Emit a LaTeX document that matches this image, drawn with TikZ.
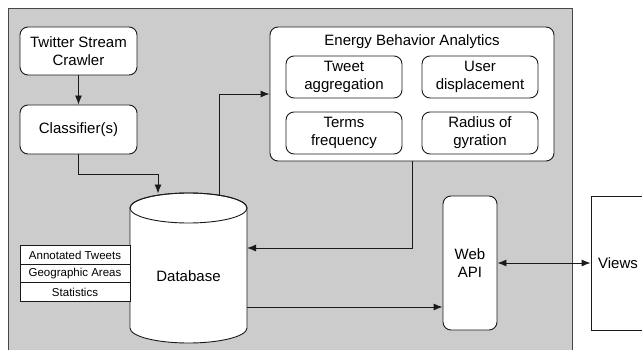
\documentclass[tikz,border=0pt]{standalone}
\usepackage{fontspec}
\setmainfont{Liberation Sans}
\usetikzlibrary{arrows.meta,calc}
\definecolor{bggray}{HTML}{CCCCCC}
\definecolor{lncol}{HTML}{1A1A1A}
\begin{document}
\begin{tikzpicture}[x=1pt,y=-1pt,
  line width=0.9pt,
  every node/.style={font=\fontsize{15}{18}\selectfont, inner sep=0pt, align=center},
  rbox/.style={draw=lncol, fill=white, rounded corners=8pt},
  sqbox/.style={draw=lncol, fill=white},
  cell/.style={draw=lncol, fill=white, minimum width=110pt, minimum height=18.5pt, font=\fontsize{11.5}{13}\selectfont},
  arr/.style={draw=lncol, -{Latex[length=9pt,width=7pt]}},
  arrs/.style={draw=lncol, {Latex[length=9pt,width=7pt]}-{Latex[length=9pt,width=7pt]}}
]
\useasboundingbox (0,0) rectangle (642,350);
\filldraw[fill=bggray, draw=lncol!80] (8,8) rectangle (572,362);

% left chain
\node[rbox, minimum width=117pt, minimum height=48pt] (crawl) at (78.5,51) {Twitter Stream\\Crawler};
\node[rbox, minimum width=117pt, minimum height=49pt] (cls) at (78.5,129.5) {Classifier(s)};

% analytics
\node[rbox, minimum width=284pt, minimum height=134pt] (eba) at (412,94) {};
\node (ebat) at (412,42) {Energy Behavior Analytics};
\node[rbox, minimum width=116pt, minimum height=42pt] (tagg) at (344,77) {Tweet\\aggregation};
\node[rbox, minimum width=116pt, minimum height=42pt] (udisp) at (480,77) {User\\displacement};
\node[rbox, minimum width=116pt, minimum height=42pt] (tfreq) at (344,133) {Terms\\frequency};
\node[rbox, minimum width=116pt, minimum height=42pt] (rgyr) at (480,133) {Radius of\\gyration};

% database cylinder
\node[minimum width=117pt, minimum height=150pt] (db) at (188.5,268) {};
\filldraw[fill=white, draw=lncol] (130,208) -- (130,328) arc[start angle=180, end angle=360, x radius=58.5pt, y radius=15pt] -- (247,208) arc[start angle=0, end angle=180, x radius=58.5pt, y radius=15pt] -- cycle;
\draw[lncol] (188.5,208) ellipse [x radius=58.5pt, y radius=15pt];
\node (dblabel) at (188.5,276) {Database};
\coordinate (dbin) at (158,193.5);
\coordinate (dbout) at (219,195.2);
\coordinate (dbr) at (247,248);
\coordinate (dbr2) at (247,307);

% table
\node[cell] (t1) at (75,255) {Annotated Tweets};
\node[cell] (t2) at (75,273.5) {Geographic Areas};
\node[cell] (t3) at (75,292) {Statistics};

% web api and views
\node[rbox, minimum width=54pt, minimum height=134pt] (api) at (470,263) {Web\\API};
\node[sqbox, minimum width=54pt, minimum height=134pt] (views) at (618,263) {Views};

% connectors
\draw[arr] (crawl) -- (cls);
\draw[arr] (cls.south) -- ++(0,20) -| (dbin);
\draw[arr] (dbout) |- (eba.west);
\draw[arr] (eba.south) |- (dbr);
\draw[arr] (dbr2) -- (dbr2 -| api.west);
\draw[arrs] (api.east) -- (views.west);
\end{tikzpicture}
\end{document}
